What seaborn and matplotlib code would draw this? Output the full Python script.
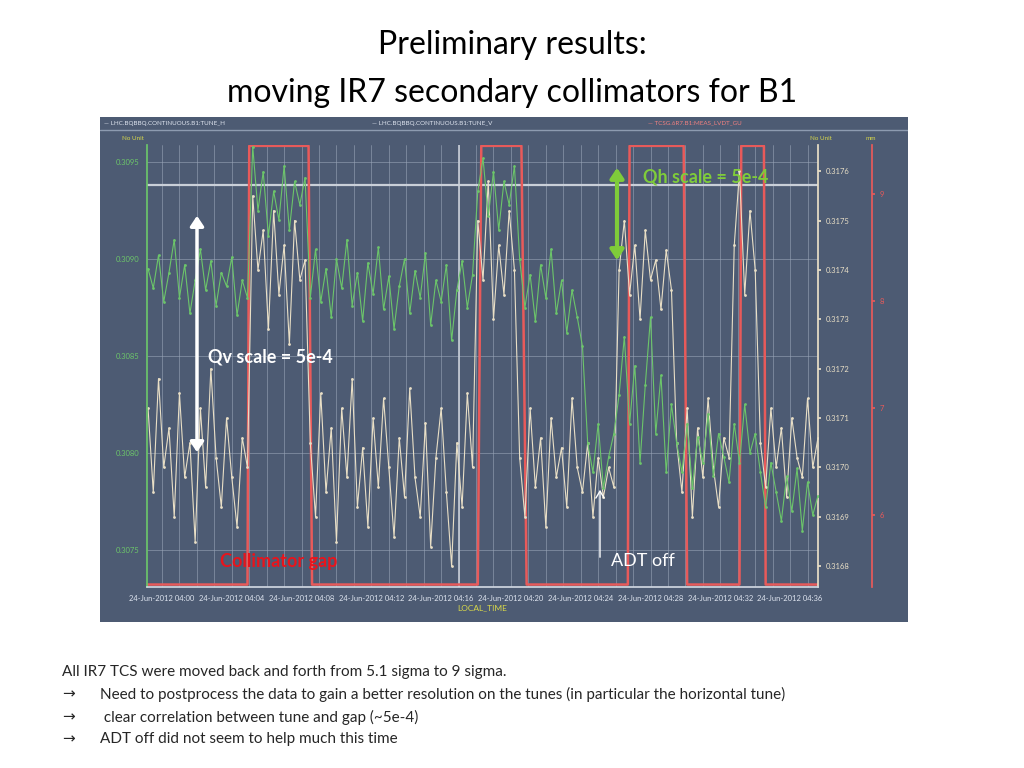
import numpy as np
import pandas as pd
import matplotlib
matplotlib.use("Agg")
import matplotlib.pyplot as plt
import seaborn as sns

sns.set_theme(style="dark")
plt.rcParams['font.family'] = ['Lato', 'DejaVu Sans']

# ---- data ----
t_start = -0.8   # minutes after 04:00
t_step = 0.3
qh = [0.30895,0.30885,0.30902,0.30878,0.30893,0.30910,0.30880,0.30897,0.30872,0.30889,0.30905,0.30884,0.30899,0.30876,0.30893,0.30886,0.30901,0.30871,0.30889,0.30880,
      0.30958,0.30925,0.30945,0.30912,0.30935,0.30920,0.30948,0.30915,0.30940,0.30928,0.30942,
      0.30880,0.30905,0.30878,0.30895,0.30870,0.30900,0.30885,0.30910,0.30876,0.30893,0.30868,0.30898,0.30882,0.30906,0.30874,0.30891,0.30864,0.30886,0.30900,0.30872,0.30894,0.30880,0.30903,0.30866,0.30889,0.30878,0.30897,0.30858,0.30884,0.30899,0.30875,0.30892,
      0.30935,0.30952,0.30922,0.30945,0.30915,0.30940,0.30928,0.30948,
      0.30900,0.30875,0.30892,0.30868,0.30897,0.30880,0.30905,0.30872,0.30889,0.30862,0.30884,0.30870,0.30855,0.30805,0.30790,0.30815,0.30782,0.30798,0.30810,
      0.30830,0.30860,0.30815,0.30845,0.30795,0.30835,0.30870,0.30810,0.30840,0.30790,0.30825,
      0.30805,0.30790,0.30815,0.30782,0.30808,0.30795,0.30820,0.30788,0.30810,0.30798,0.30785,
      0.30815,0.30795,0.30825,0.30800,0.30810,
      0.30790,0.30772,0.30795,0.30780,0.30765,0.30788,0.30770,0.30792,0.30760,0.30785,0.30768,0.30778]
qv = [0.31712,0.31695,0.31718,0.31700,0.31708,0.31690,0.31715,0.31698,0.31705,0.31685,0.31712,0.31696,0.31720,0.31702,0.31692,0.31710,0.31698,0.31688,0.31706,0.31700,
      0.31755,0.31740,0.31748,0.31728,0.31752,0.31735,0.31745,0.31725,0.31750,0.31738,0.31742,
      0.31705,0.31690,0.31715,0.31695,0.31708,0.31685,0.31712,0.31698,0.31718,0.31692,0.31704,0.31688,0.31710,0.31696,0.31714,0.31700,0.31686,0.31706,0.31694,0.31716,0.31698,0.31690,0.31709,0.31684,0.31702,0.31712,0.31695,0.31680,0.31705,0.31692,0.31715,0.31700,
      0.31750,0.31738,0.31758,0.31730,0.31745,0.31735,0.31752,0.31740,
      0.31702,0.31690,0.31712,0.31696,0.31706,0.31688,0.31710,0.31698,0.31704,0.31692,0.31714,0.31700,0.31695,0.31705,0.31690,0.31702,0.31694,0.31700,0.31696,
      0.31740,0.31750,0.31735,0.31745,0.31730,0.31748,0.31738,0.31742,0.31732,0.31744,0.31736,
      0.31705,0.31695,0.31712,0.31690,0.31708,0.31698,0.31714,0.31700,0.31692,0.31706,0.31702,
      0.31745,0.31760,0.31735,0.31752,0.31740,
      0.31705,0.31696,0.31712,0.31700,0.31708,0.31694,0.31710,0.31702,0.31698,0.31714,0.31700,0.31706]
gap_t = [-0.9, 4.9, 5.0, 8.4, 8.6, 18.1, 18.3, 20.6, 20.9, 26.7, 26.8, 29.9, 30.1, 33.1, 33.2, 34.5, 34.6, 37.7]
gap_mm = [5.35, 5.35, 9.45, 9.45, 5.35, 5.35, 9.45, 9.45, 5.35, 5.35, 9.45, 9.45, 5.35, 5.35, 9.45, 9.45, 5.35, 5.35]
time_ticks = [0, 4, 8, 12, 16, 20, 24, 28, 32, 36]
time_labels = ["24-Jun-2012 04:%02d" % m for m in time_ticks]
qh_ticks = [0.3075, 0.3080, 0.3085, 0.3090, 0.3095]
qv_ticks = [0.3168, 0.3169, 0.3170, 0.3171, 0.3172, 0.3173, 0.3174, 0.3175, 0.3176]
mm_ticks = [6, 7, 8, 9]

n = min(len(qh), len(qv))
tt = [t_start + t_step * i for i in range(n)]
df = pd.DataFrame({"t": tt, "qh": qh[:n], "qv": qv[:n]})
gdf = pd.DataFrame({"t": gap_t, "mm": gap_mm})

W, H = 1024, 768
fig = plt.figure(figsize=(W/100, H/100), dpi=100, facecolor="white")
def fx(x): return x / W
def fy(y): return 1 - y / H

BG = "#4d5b73"
GREEN = "#6cc56a"
BEIGE = "#e9dfc6"
RED = "#e85a5a"
YEL = "#d8d84a"

# panel background
panel = fig.add_axes([fx(100), fy(622), fx(908) - fx(100), fy(117) - fy(622)])
panel.set_facecolor(BG)
panel.set_xticks([]); panel.set_yticks([])
for s in panel.spines.values(): s.set_visible(False)
panel.axhline(0.974, color="#8d9bb0", lw=1)
panel.set_zorder(0)

rect = [fx(147), fy(587), fx(818) - fx(147), fy(145) - fy(587)]

# red gap axis (bottom layer)
axm = fig.add_axes(rect)
axm.set_zorder(1); axm.patch.set_visible(False)
axm.set_xlim(-0.86, 37.6)
axm.set_ylim(5.327, 9.458)
axm.xaxis.set_visible(False)
axm.yaxis.tick_right()
for s in axm.spines.values(): s.set_visible(False)
axm.spines["right"].set_position(("axes", 1.08))
axm.spines["right"].set_visible(True); axm.spines["right"].set_color(RED)
axm.set_yticks(mm_ticks)
axm.set_yticklabels([str(v) for v in mm_ticks], fontsize=5.5, color=RED)
axm.tick_params(length=2, color=RED)
sns.lineplot(data=gdf, x="t", y="mm", ax=axm, color=RED, lw=1.8)
axm.set_xlabel(""); axm.set_ylabel("")

# main axes (Qh)
ax = fig.add_axes(rect)
ax.set_zorder(3); ax.patch.set_visible(False)
ax.set_xlim(-0.86, 37.6)
ax.set_ylim(0.307309, 0.309588)
ax.set_xticks(time_ticks)
ax.set_xticks(np.arange(0, 38, 1), minor=True)
ax.set_xticklabels(time_labels, fontsize=5.5, color="#dde3ee")
ax.set_yticks(qh_ticks)
ax.set_yticklabels(["%.4f" % v for v in qh_ticks], fontsize=5.5, color=GREEN)
ax.set_yticks(np.arange(0.30735, 0.30960, 0.0001), minor=True)
ax.tick_params(axis="both", which="both", length=2, color="#cfd6e0")
for s in ["top", "right"]: ax.spines[s].set_visible(False)
ax.spines["left"].set_color(GREEN)
ax.spines["bottom"].set_color("#cfd6e0")

# grid drawn on the bottom axis so that it sits under all marks
axg = fig.add_axes(rect)
axg.set_zorder(0.5); axg.patch.set_visible(False)
axg.set_xlim(ax.get_xlim()); axg.set_ylim(ax.get_ylim())
axg.set_xticks(np.arange(0, 38, 1)); axg.set_yticks(qh_ticks)
axg.grid(True, color="#9aa6b8", lw=0.5, alpha=0.8)
axg.tick_params(length=0, labelleft=False, labelbottom=False)
for s in axg.spines.values(): s.set_visible(False)
axg.axhline(0.30938, color="#c9cfd8", lw=1.6)
axg.axvline(17.0, color="#c9cfd8", lw=1.2)

# Qv axis
axv = fig.add_axes(rect)
axv.set_zorder(2); axv.patch.set_visible(False)
axv.set_xlim(-0.86, 37.6)
axv.xaxis.set_visible(False)
axv.yaxis.tick_right()
axv.set_ylim(0.316758, 0.317653)
axv.set_yticks(qv_ticks)
axv.set_yticklabels(["%.4f" % v for v in qv_ticks], fontsize=5.5, color=BEIGE)
axv.tick_params(length=2, color=BEIGE)
for s in axv.spines.values(): s.set_visible(False)
axv.spines["right"].set_visible(True); axv.spines["right"].set_color(BEIGE)

sns.lineplot(data=df, x="t", y="qv", ax=axv, color=BEIGE, lw=0.8, marker="o", markersize=2, markeredgewidth=0)
sns.lineplot(data=df, x="t", y="qh", ax=ax, color=GREEN, lw=0.8, marker="o", markersize=2, markeredgewidth=0)
axv.set_xlabel(""); axv.set_ylabel("")
ax.set_ylabel("")
ax.set_xlabel("LOCAL_TIME", fontsize=6, color=YEL, labelpad=2)

# legend row & unit labels
fig.text(fx(104), fy(123), "— LHC.BQBBQ.CONTINUOUS.B1:TUNE_H", fontsize=4.5, color="#dde3ee", va="center")
fig.text(fx(372), fy(123), "— LHC.BQBBQ.CONTINUOUS.B1:TUNE_V", fontsize=4.5, color="#dde3ee", va="center")
fig.text(fx(648), fy(123), "— TCSG.6R7.B1:MEAS_LVDT_GU", fontsize=4.5, color="#f08080", va="center")
fig.text(fx(122), fy(139), "No Unit", fontsize=4.5, color=YEL, va="center")
fig.text(fx(810), fy(139), "No Unit", fontsize=4.5, color=YEL, va="center")
fig.text(fx(866), fy(139), "mm", fontsize=4.5, color=YEL, va="center")

# annotations
fig.add_artist(matplotlib.patches.FancyArrowPatch((fx(617), fy(263)), (fx(617), fy(165)), transform=fig.transFigure,
               arrowstyle="<|-|>,head_length=6,head_width=4", color="#7fcc3a", lw=3, zorder=10))
fig.text(fx(643), fy(177), "Qh scale = 5e-4", fontsize=13, fontweight="bold", color="#7fcc3a", va="center", zorder=10)
fig.add_artist(matplotlib.patches.FancyArrowPatch((fx(197), fy(455)), (fx(197), fy(213)), transform=fig.transFigure,
               arrowstyle="<|-|>,head_length=6,head_width=4", color="white", lw=2.5, zorder=10))
fig.text(fx(208), fy(357), "Qv scale = 5e-4", fontsize=13, fontweight="bold", color="white", va="center", zorder=10)
fig.text(fx(220), fy(561), "Collimator gap", fontsize=13, fontweight="bold", color="#e8141c", va="center", zorder=10)
fig.add_artist(matplotlib.patches.FancyArrowPatch((fx(600), fy(560)), (fx(600), fy(487)), transform=fig.transFigure,
               arrowstyle="->,head_length=5,head_width=3", color="white", lw=1, zorder=10))
fig.text(fx(611), fy(561), "ADT off", fontsize=13, color="white", va="center", zorder=10)

# title
fig.text(0.5, fy(45), "Preliminary results:", fontsize=23, ha="center", va="center", color="black")
fig.text(0.5, fy(93), "moving IR7 secondary collimators for B1", fontsize=23, ha="center", va="center", color="black")

# bottom text
fig.text(fx(62), fy(672), "All IR7 TCS were moved back and forth from 5.1 sigma to 9 sigma.", fontsize=11, va="center")
lines = ["Need to postprocess the data to gain a better resolution on the tunes (in particular the horizontal tune)",
         " clear correlation between tune and gap (~5e-4)",
         "ADT off did not seem to help much this time"]
for i, s in enumerate(lines):
    y = [694, 717, 739][i]
    fig.text(fx(62), fy(y), "→", fontsize=11, va="center", family=["DejaVu Sans"])
    fig.text(fx(100), fy(y), s, fontsize=11, va="center")

fig.savefig("out.png", dpi=100, facecolor="white")
